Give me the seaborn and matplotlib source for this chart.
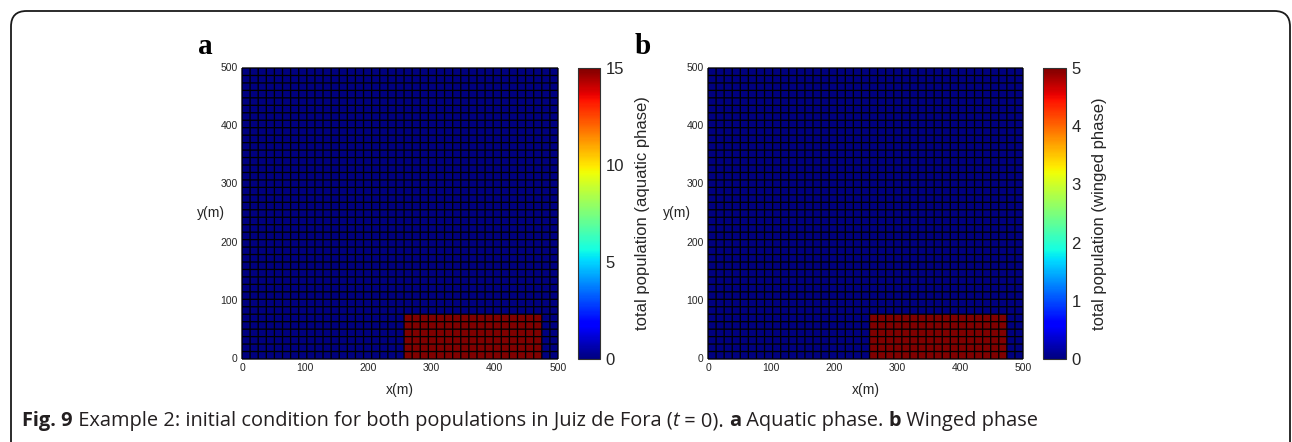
import numpy as np
import matplotlib
matplotlib.use("Agg")
import matplotlib.pyplot as plt
import seaborn as sns
from matplotlib.patches import FancyBboxPatch

# ---------------- data ----------------
domain_m = 500                 # side of the square domain (m)
n_cells = 39                   # cells per side
hot_cols = [20, 36]            # first/last column index of the initial focus
hot_rows = [0, 5]              # first/last row index of the initial focus
aquatic_value = 15
winged_value = 5
aquatic_ticks = [0, 5, 10, 15]
winged_ticks = [0, 1, 2, 3, 4, 5]
axis_ticks = [0, 100, 200, 300, 400, 500]
panel_labels = ["a", "b"]
cbar_labels = ["total population (aquatic phase)", "total population (winged phase)"]
caption_parts = [
    ("Fig. 9", "bold", "normal"),
    (" Example 2: initial condition for both populations in Juiz de Fora (", "normal", "normal"),
    ("t", "normal", "italic"),
    (" = 0). ", "normal", "normal"),
    ("a", "bold", "normal"),
    (" Aquatic phase. ", "normal", "normal"),
    ("b", "bold", "normal"),
    (" Winged phase", "normal", "normal"),
]


def field(v):
    z = np.zeros((n_cells, n_cells))
    z[hot_rows[0]:hot_rows[1] + 1, hot_cols[0]:hot_cols[1] + 1] = v
    return z


sns.set_theme(style="white")
plt.rcParams["font.family"] = ["Liberation Sans", "DejaVu Sans"]

W, H = 1292, 442
fig = plt.figure(figsize=(W / 100, H / 100), dpi=100)


def fx(px):
    return px / W


def fy(py):
    return 1 - py / H


panels = [
    dict(ax=(242, 68, 558, 359), cax=(578, 68, 600, 359), val=aquatic_value,
         vmax=aquatic_value, ticks=aquatic_ticks, label=cbar_labels[0],
         letter=(205, 47), ylab=(211, 213), xlab=(400, 390)),
    dict(ax=(708, 68, 1023, 359), cax=(1043, 68, 1066, 359), val=winged_value,
         vmax=winged_value, ticks=winged_ticks, label=cbar_labels[1],
         letter=(643, 47), ylab=(677, 213), xlab=(866, 390)),
]

tick_gray = "#262626"
for i, p in enumerate(panels):
    l, t, r, b = p["ax"]
    ax = fig.add_axes([fx(l), fy(b), fx(r - l), (b - t) / H])
    cl, ct, cr, cb = p["cax"]
    cax = fig.add_axes([fx(cl), fy(cb), fx(cr - cl), (cb - ct) / H])
    sns.heatmap(field(p["val"]), ax=ax, cbar_ax=cax, cmap="jet", vmin=0,
                vmax=p["vmax"], linewidths=0,
                cbar_kws={"ticks": p["ticks"]}, square=False)
    mesh = ax.collections[0]
    ax.invert_yaxis()
    # cell outlines (MATLAB pcolor faceted look)
    edges = np.arange(n_cells + 1)
    ax.vlines(edges, 0, n_cells, colors="black", linewidth=0.95,
              snap=False, antialiased=True, clip_on=False)
    ax.hlines(edges, 0, n_cells, colors="black", linewidth=0.95,
              snap=False, antialiased=True, clip_on=False)
    scale = n_cells / domain_m
    ax.set_xticks([v * scale for v in axis_ticks])
    ax.set_xticklabels([str(v) for v in axis_ticks], rotation=0)
    ax.set_yticks([v * scale for v in axis_ticks])
    ax.set_yticklabels([str(v) for v in axis_ticks], rotation=0)
    ax.tick_params(axis="both", labelsize=7.5, length=0, pad=3, colors=tick_gray)
    ax.set_xlim(0, n_cells)
    ax.set_ylim(0, n_cells)
    ax.set_xlabel("")
    ax.set_ylabel("")

    cbar = mesh.colorbar
    cbar.outline.set_linewidth(0.8)
    cbar.outline.set_edgecolor("#333333")
    cax.tick_params(labelsize=12, direction="in", length=4, width=0.7,
                    colors=tick_gray, pad=4, right=True)
    cax.set_ylabel(p["label"], fontsize=12, color=tick_gray, labelpad=8)

    fig.text(fx(p["letter"][0]), fy(p["letter"][1]), panel_labels[i],
             fontsize=21, fontweight="bold", family="Liberation Serif",
             ha="center", va="center", color="black")
    fig.text(fx(p["ylab"][0]), fy(p["ylab"][1]), "y(m)", fontsize=10,
             ha="center", va="center", color=tick_gray)
    fig.text(fx(p["xlab"][0]), fy(p["xlab"][1]), "x(m)", fontsize=10,
             ha="center", va="center", color=tick_gray)

# frame around the figure
frame = FancyBboxPatch((fx(11), fy(470)), fx(1279), (470 - 11) / H,
                       boxstyle="round,pad=0,rounding_size=0.012",
                       transform=fig.transFigure, fill=False,
                       edgecolor="#1a1a1a", linewidth=1.3, clip_on=False,
                       mutation_aspect=W / H)
fig.patches.append(frame)

# caption, placed piece by piece
renderer = fig.canvas.get_renderer()
x = fx(22)
for txt, weight, style in caption_parts:
    t_obj = fig.text(x, fy(421), txt, fontsize=14.4, fontweight=weight,
                     fontstyle=style, family=["Open Sans", "DejaVu Sans"],
                     ha="left", va="center", color="#231f20")
    bb = t_obj.get_window_extent(renderer)
    x += bb.width / W

fig.savefig("out.png", dpi=100)
